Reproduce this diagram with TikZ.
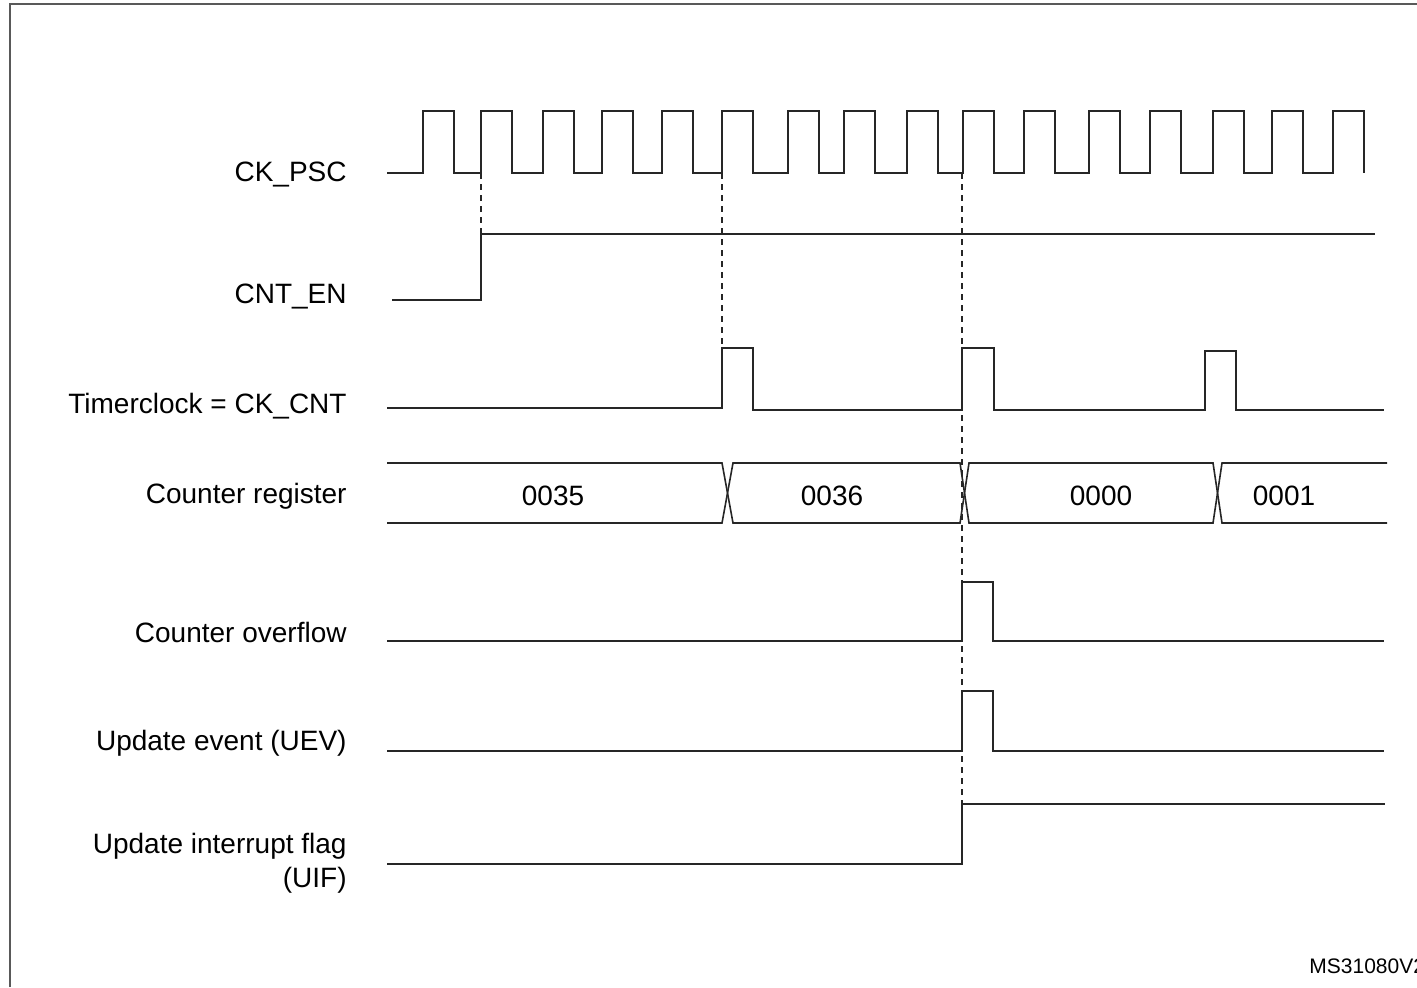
\documentclass[tikz,border=0pt]{standalone}
\usepackage{fontspec}
\setmainfont{Liberation Sans}
\tikzset{
  sig/.style={line width=0.8pt, draw=black!85, line join=miter},
  guide/.style={line width=0.8pt, draw=black!85, dash pattern=on 3pt off 2.5pt},
  lbl/.style={anchor=base east, inner sep=0pt, font=\fontsize{14}{16.7}\selectfont, align=right},
  val/.style={anchor=base, inner sep=0pt, font=\fontsize{14}{16.7}\selectfont}
}
\begin{document}
\begin{tikzpicture}[x=0.5pt, y=-0.5pt]
  \useasboundingbox (0,0) rectangle (1417,987);
  \draw[line width=1pt, black!65] (10,987) -- (10,3.5) -- (1417,3.5);
  % signal names
  \node[lbl] (ckpsc) at (347,181) {CK\_PSC};
  \node[lbl] (cnten) at (347,303) {CNT\_EN};
  \node[lbl] (tclk) at (347,413) {Timerclock = CK\_CNT};
  \node[lbl] (cntreg) at (347,503) {Counter register};
  \node[lbl] (ovf) at (347,642) {Counter overflow};
  \node[lbl] (uev) at (347,750) {Update event (UEV)};
  \node[lbl] (uif) at (347,887) {Update interrupt flag\\(UIF)};
  % prescaler clock
  \draw[sig] (387,173) foreach \r in {423,481,543,602,662,722,788,844,907,963,1024,1089,1150,1213,1272,1333}
    { -- (\r,173) -- (\r,111) -- ({\r+31},111) -- ({\r+31},173) };
  \draw[sig] (392,300) -- (481,300) -- (481,234) -- (1375,234);
  \draw[sig] (387,408) -- (722,408) -- (722,348) -- (753,348) -- (753,410) -- (962,410) -- (962,348)
    -- (994,348) -- (994,410) -- (1205,410) -- (1205,351) -- (1236,351) -- (1236,410) -- (1384,410);
  % counter bus
  \draw[sig] (387,463) -- (722,463) -- (733,523) -- (960,523) -- (969,463) -- (1213,463) -- (1222,523) -- (1387,523);
  \draw[sig] (387,523) -- (722,523) -- (733,463) -- (960,463) -- (969,523) -- (1213,523) -- (1222,463) -- (1387,463);
  \node[val] (v35) at (553,505) {0035};
  \node[val] (v36) at (832,505) {0036};
  \node[val] (v00) at (1101,505) {0000};
  \node[val] (v01) at (1284,505) {0001};
  \draw[sig] (387,641) -- (962,641) -- (962,582) -- (993,582) -- (993,641) -- (1384,641);
  \draw[sig] (387,751) -- (962,751) -- (962,691) -- (993,691) -- (993,751) -- (1384,751);
  \draw[sig] (387,864) -- (962,864) -- (962,804) -- (1385,804);
  % edge markers
  \coordinate (ena) at (481,173);
  \coordinate (enb) at (481,300);
  \coordinate (tka) at (722,173);
  \coordinate (tkb) at (722,348);
  \coordinate (ova) at (962,173);
  \coordinate (ovb) at (962,864);
  \draw[guide] (ena) -- (enb);
  \draw[guide] (tka) -- (tkb);
  \draw[guide] (ova) -- (ovb);
  \node[anchor=base west, inner sep=0pt, font=\fontsize{10.5}{12}\selectfont] (docid) at (1309,973) {MS31080V2};
\end{tikzpicture}
\end{document}
